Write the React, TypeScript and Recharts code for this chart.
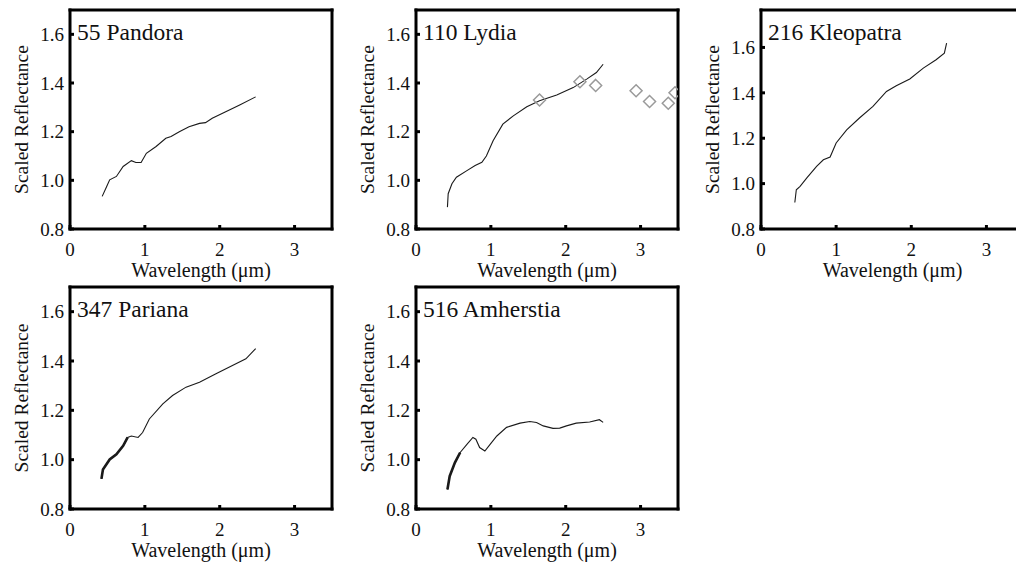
import React from 'react'
import { ComposedChart, Line, Scatter, XAxis, YAxis } from 'recharts'

// axis ticks shared by every panel
const xTicks = [0, 1, 2, 3]
const xTicksTop = [1, 2, 3]
const yTicks = [0.8, 1.0, 1.2, 1.4, 1.6]
const yTicksRight = [1.0, 1.2, 1.4, 1.6]

// 55 Pandora
const pandoraX = [0.43, 0.49, 0.53, 0.62, 0.71, 0.82, 0.88, 0.95, 1.02, 1.15, 1.28, 1.35, 1.46, 1.59, 1.73, 1.81, 1.9, 2.08, 2.26, 2.48]
const pandoraY = [0.934, 0.975, 1.002, 1.016, 1.057, 1.081, 1.073, 1.073, 1.111, 1.139, 1.173, 1.18, 1.2, 1.22, 1.234, 1.237, 1.255, 1.282, 1.309, 1.343]

// 110 Lydia
const lydiaX = [0.42, 0.43, 0.48, 0.54, 0.68, 0.79, 0.88, 0.94, 1.03, 1.16, 1.3, 1.48, 1.65, 1.88, 2.1, 2.28, 2.41, 2.5]
const lydiaY = [0.89, 0.945, 0.986, 1.013, 1.04, 1.061, 1.074, 1.1, 1.163, 1.231, 1.265, 1.302, 1.327, 1.351, 1.381, 1.416, 1.443, 1.477]
const lydiaDiamondX = [1.65, 2.19, 2.4, 2.94, 3.12, 3.37, 3.46]
const lydiaDiamondY = [1.33, 1.405, 1.39, 1.368, 1.324, 1.317, 1.36]

// 216 Kleopatra
const kleoX = [0.45, 0.47, 0.52, 0.61, 0.74, 0.83, 0.92, 1.0, 1.14, 1.31, 1.49, 1.67, 1.8, 1.98, 2.16, 2.33, 2.44, 2.47]
const kleoY = [0.917, 0.973, 0.988, 1.025, 1.076, 1.105, 1.117, 1.179, 1.237, 1.289, 1.34, 1.406, 1.431, 1.461, 1.509, 1.546, 1.575, 1.619]

// 347 Pariana
const parX = [0.42, 0.44, 0.53, 0.62, 0.71, 0.77, 0.82, 0.91, 0.97, 1.06, 1.24, 1.37, 1.55, 1.73, 1.95, 2.17, 2.35, 2.48]
const parY = [0.922, 0.96, 1.001, 1.022, 1.056, 1.09, 1.096, 1.09, 1.11, 1.165, 1.226, 1.26, 1.294, 1.314, 1.348, 1.382, 1.409, 1.45]

// 516 Amherstia
const amhX = [0.42, 0.45, 0.52, 0.59, 0.68, 0.76, 0.8, 0.85, 0.92, 0.99, 1.08, 1.21, 1.39, 1.52, 1.61, 1.7, 1.83, 1.92, 2.01, 2.14, 2.32, 2.45, 2.5]
const amhY = [0.879, 0.933, 0.988, 1.029, 1.062, 1.09, 1.083, 1.049, 1.035, 1.062, 1.096, 1.131, 1.148, 1.155, 1.151, 1.137, 1.127, 1.128, 1.137, 1.148, 1.153, 1.162, 1.151]

type Pt = { x: number; y: number }
const zip = (xs: number[], ys: number[]): Pt[] => xs.map((x, i) => ({ x, y: ys[i] }))

const FONT = '"Liberation Serif", "Times New Roman", Times, serif'

// eslint-disable-next-line @typescript-eslint/no-explicit-any
function Diamond(props: any) {
  const { cx, cy } = props
  if (cx == null || cy == null) return null
  const r = 6
  return (
    <path
      d={`M${cx},${cy - r}L${cx + r},${cy}L${cx},${cy + r}L${cx - r},${cy}Z`}
      fill="none"
      stroke="#9a9a9a"
      strokeWidth={1.5}
    />
  )
}

interface PanelProps {
  title: string
  left: number
  top: number
  width: number
  height: number
  yMax: number
  spectrum: Pt[]
  thick?: Pt[]
  diamonds?: Pt[]
}

const axisLine = { stroke: '#000', strokeWidth: 3, strokeLinecap: 'square' as const }
const tickLine = { stroke: '#000', strokeWidth: 3 }
const tickStyle = { fill: '#111', fontSize: 19, fontFamily: FONT }

function Panel({ title, left, top, width, height, yMax, spectrum, thick, diamonds }: PanelProps) {
  const cw = width + 80
  const ch = height + 70
  return (
    <div style={{ position: 'absolute', left: left - 70, top: top - 10, width: cw, height: ch }}>
      <ComposedChart width={cw} height={ch} margin={{ top: 9, right: 9, bottom: 0, left: 0 }}>
        <XAxis
          xAxisId="b"
          type="number"
          dataKey="x"
          domain={[0, 3.5]}
          ticks={xTicks}
          allowDataOverflow
          height={60}
          axisLine={axisLine}
          tickLine={tickLine}
          tickSize={-4}
          tickMargin={18}
          tick={tickStyle}
          label={{
            value: 'Wavelength (μm)',
            position: 'insideBottom',
            offset: 12,
            style: { fill: '#111', fontSize: 20, fontFamily: FONT },
          }}
        />
        <XAxis
          xAxisId="t"
          orientation="top"
          type="number"
          dataKey="x"
          domain={[0, 3.5]}
          ticks={xTicksTop}
          height={1}
          axisLine={axisLine}
          tickLine={tickLine}
          tickSize={-4}
          tick={false}
        />
        <YAxis
          yAxisId="l"
          type="number"
          dataKey="y"
          domain={[0.8, yMax]}
          ticks={yTicks}
          allowDataOverflow
          width={70}
          axisLine={axisLine}
          tickLine={tickLine}
          tickSize={-4}
          tickMargin={10}
          tick={tickStyle}
          tickFormatter={(v: number) => v.toFixed(1)}
          label={{
            value: 'Scaled Reflectance',
            angle: -90,
            position: 'insideLeft',
            offset: 21,
            style: { fill: '#111', fontSize: 19.5, fontFamily: FONT, textAnchor: 'middle' },
          }}
        />
        <YAxis
          yAxisId="r"
          orientation="right"
          type="number"
          dataKey="y"
          domain={[0.8, yMax]}
          ticks={yTicksRight}
          width={1}
          axisLine={axisLine}
          tickLine={tickLine}
          tickSize={-4}
          tick={false}
        />
        <Line
          xAxisId="b"
          yAxisId="l"
          data={spectrum}
          dataKey="y"
          type="linear"
          stroke="#1a1a1a"
          strokeWidth={1.1}
          dot={false}
          isAnimationActive={false}
        />
        {thick && (
          <Line
            xAxisId="b"
            yAxisId="l"
            data={thick}
            dataKey="y"
            type="linear"
            stroke="#1a1a1a"
            strokeWidth={2.6}
            dot={false}
            isAnimationActive={false}
          />
        )}
        {diamonds && (
          <Scatter
            xAxisId="b"
            yAxisId="l"
            data={diamonds}
            dataKey="y"
            shape={<Diamond />}
            isAnimationActive={false}
          />
        )}
      </ComposedChart>
      <svg width={cw} height={ch} style={{ position: 'absolute', left: 0, top: 0, pointerEvents: 'none' }}>
        <text x={77} y={40} fill="#111" fontSize={23.5} fontFamily={FONT}>
          {title}
        </text>
      </svg>
    </div>
  )
}

export default function App() {
  const par = zip(parX, parY)
  const amh = zip(amhX, amhY)
  return (
    <div
      style={{
        position: 'fixed',
        left: 0,
        top: 0,
        width: 1016,
        height: 563,
        overflow: 'hidden',
        background: '#fff',
      }}
    >
      <Panel title="55 Pandora" left={70} top={10} width={262} height={219} yMax={1.7} spectrum={zip(pandoraX, pandoraY)} />
      <Panel
        title="110 Lydia"
        left={416}
        top={10}
        width={262}
        height={219}
        yMax={1.7}
        spectrum={zip(lydiaX, lydiaY)}
        diamonds={zip(lydiaDiamondX, lydiaDiamondY)}
      />
      <Panel title="216 Kleopatra" left={761} top={10} width={263} height={219} yMax={1.765} spectrum={zip(kleoX, kleoY)} />
      <Panel
        title="347 Pariana"
        left={70}
        top={287}
        width={262}
        height={222}
        yMax={1.7}
        spectrum={par}
        thick={par.filter((p) => p.x <= 0.8)}
      />
      <Panel
        title="516 Amherstia"
        left={416}
        top={287}
        width={262}
        height={222}
        yMax={1.7}
        spectrum={amh}
        thick={amh.filter((p) => p.x <= 0.6)}
      />
    </div>
  )
}
